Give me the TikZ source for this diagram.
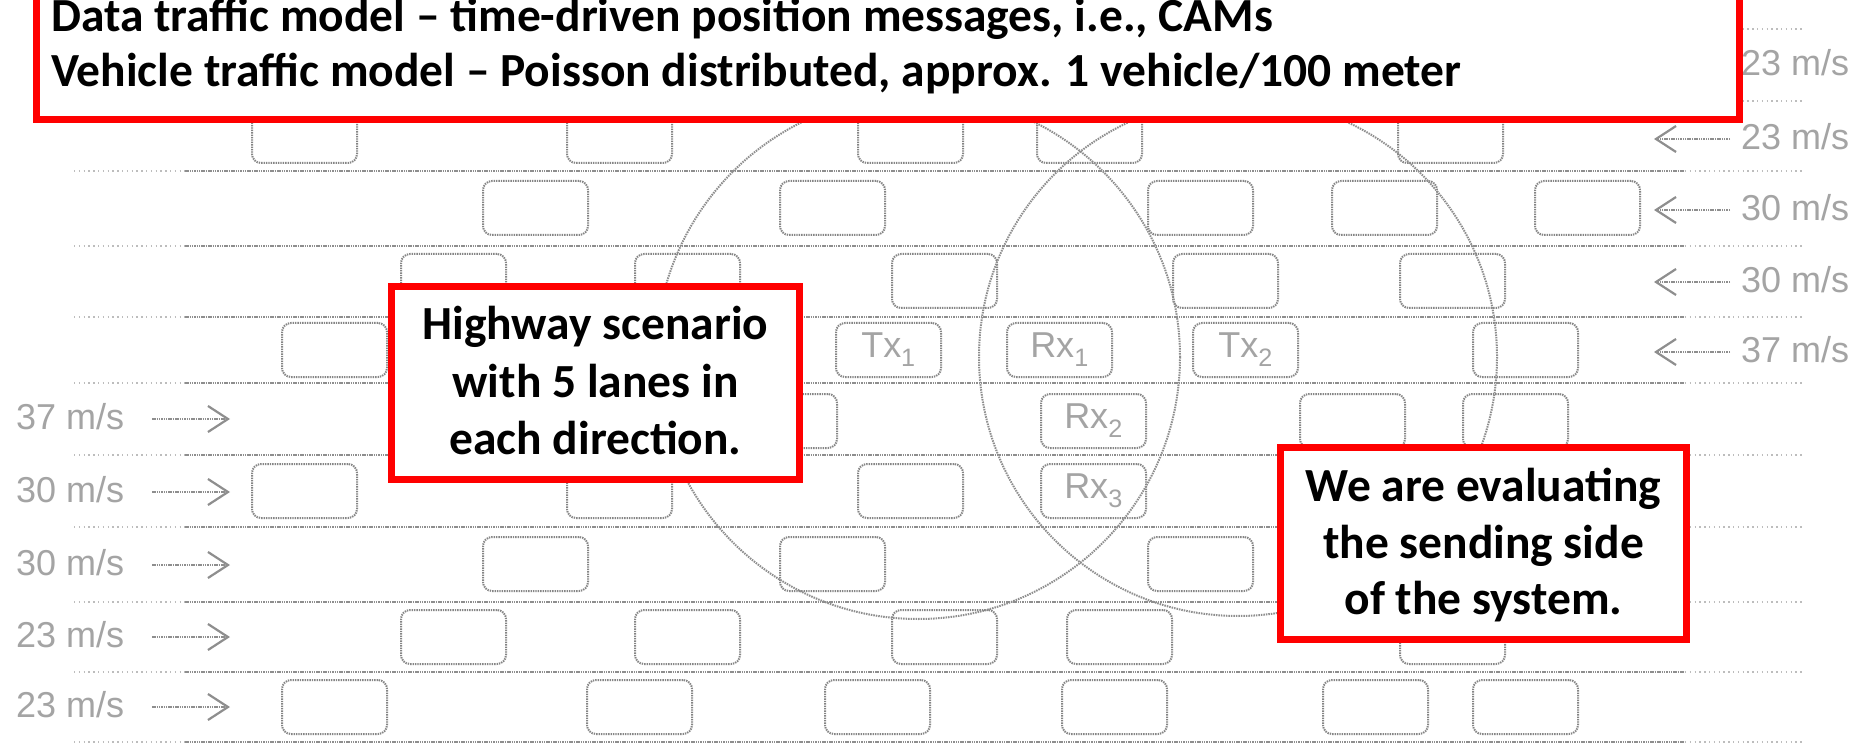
\documentclass[tikz,border=0pt]{standalone}
\usepackage{fontspec}
\setmainfont{Carlito}
\newfontfamily\arialfont{Liberation Sans}
\usetikzlibrary{arrows.meta}
\definecolor{lanegray}{HTML}{8E8E8E}
\definecolor{fadegray}{HTML}{BDBDBD}
\definecolor{cargray}{HTML}{858585}
\definecolor{labelgray}{HTML}{A4A4A4}
\definecolor{boxred}{HTML}{FF0000}

\begin{document}
\begin{tikzpicture}[x=1pt,y=-1pt,
  lane/.style={draw=lanegray, line width=2.4pt, dash pattern=on 1.5pt off 0.8pt},
  lanefade/.style={draw=fadegray, line width=1.8pt, dash pattern=on 1.3pt off 3.5pt},
  car/.style={draw=cargray, line width=2pt, dash pattern=on 1.4pt off 1pt,
    rounded corners=9pt, minimum width=105pt, minimum height=54pt, inner sep=0pt},
  ring/.style={draw=lanegray, line width=2pt, dash pattern=on 1.5pt off 1pt},
  flow/.style={draw=lanegray, line width=2.2pt, dash pattern=on 1.5pt off 0.8pt,
    -{Straight Barb[length=20pt,width=26pt,line width=2.2pt]}},
  speed/.style={font=\arialfont\fontsize{36}{40}\selectfont, text=labelgray, inner sep=0pt, anchor=west},
  idtext/.style={font=\arialfont\fontsize{36}{40}\selectfont, text=labelgray},
  redbox/.style={draw=boxred, line width=7pt, fill=white, inner sep=0pt},
  note/.style={font=\bfseries\fontsize{47.5}{57}\selectfont, inner sep=0pt, anchor=base},
  headline/.style={font=\bfseries\fontsize{47.5}{55}\selectfont, inner sep=0pt, anchor=base west},
]
\useasboundingbox[fill=white] (0,0) rectangle (1869,743);

% lane markings: faint ends, dense middle
\foreach \y in {29,101,171,246,317,383,455,527,602,672,742} {
  \draw[lanefade] (74,\y) -- (185,\y);
  \draw[lane] (185,\y) -- (1685,\y);
  \draw[lanefade] (1685,\y) -- (1803,\y);
}

% vehicles, lane by lane (x centre / y centre)
\foreach \x in {304.5,619.5,910.5,1089.5,1450.5} \node[car] at (\x,136) {};
\foreach \x in {535.5,832.5,1200.5,1384.5,1587.5} \node[car] at (\x,208) {};
\foreach \x in {453.5,687.5,944.5,1225.5,1452.5} \node[car] at (\x,281) {};
\foreach \x in {334.5,1525.5} \node[car] at (\x,350) {};
\foreach \x in {784.5,1352.5,1515.5} \node[car] at (\x,421) {};
\foreach \x in {304.5,619.5,910.5} \node[car] at (\x,491) {};
\foreach \x in {535.5,832.5,1200.5} \node[car] at (\x,564) {};
\foreach \x in {453.5,687.5,944.5,1119.5,1452.5} \node[car] at (\x,637) {};
\foreach \x in {334.5,639.5,877.5,1114.5,1375.5,1525.5} \node[car] at (\x,707) {};

% transmitters and receivers
\node[car, idtext] (tx1) at (888.5,350) {Tx\textsubscript{1}};
\node[car, idtext] (rx1) at (1059.5,350) {Rx\textsubscript{1}};
\node[car, idtext] (tx2) at (1245.5,350) {Tx\textsubscript{2}};
\node[car, idtext] (rx2) at (1093.5,421) {Rx\textsubscript{2}};
\node[car, idtext] (rx3) at (1093.5,491) {Rx\textsubscript{3}};

% communication ranges
\draw[ring] (918,357) circle[radius=262];
\draw[ring] (1238,357) circle[radius=259];

% driving directions and speeds, westbound lanes
\foreach \y/\v in {63/23,137/23,208/30,280/30,350/37} {
  \draw[flow] (1730,\y+2) -- (1654,\y+2);
  \node[speed] at (1741,\y) {\v~m/s};
}
% eastbound lanes
\foreach \y/\v in {417/37,490/30,563/30,635/23,705/23} {
  \node[speed] at (16,\y) {\v~m/s};
  \draw[flow] (152,\y+2) -- (230,\y+2);
}

% annotation boxes
\node[redbox, minimum width=1703pt, minimum height=130pt] (model) at (888,55) {};
\node[headline] (m1) at (51,32) {Data traffic model – time-driven position messages, i.e., CAMs};
\node[headline] (m2) at (51,87) {Vehicle traffic model – Poisson distributed, approx. 1 vehicle/100 meter};

\node[redbox, minimum width=408pt, minimum height=193pt] (hw) at (595.5,383) {};
\node[note] (hw1) at (595.5,340) {Highway scenario};
\node[note] (hw2) at (595.5,397) {with 5 lanes in};
\node[note] (hw3) at (595.5,454) {each direction.};

\node[redbox, minimum width=406pt, minimum height=192pt] (ev) at (1483.5,543.5) {};
\node[note] (ev1) at (1483.5,501) {We are evaluating};
\node[note] (ev2) at (1483.5,558) {the sending side};
\node[note] (ev3) at (1483.5,614) {of the system.};
\end{tikzpicture}
\end{document}
